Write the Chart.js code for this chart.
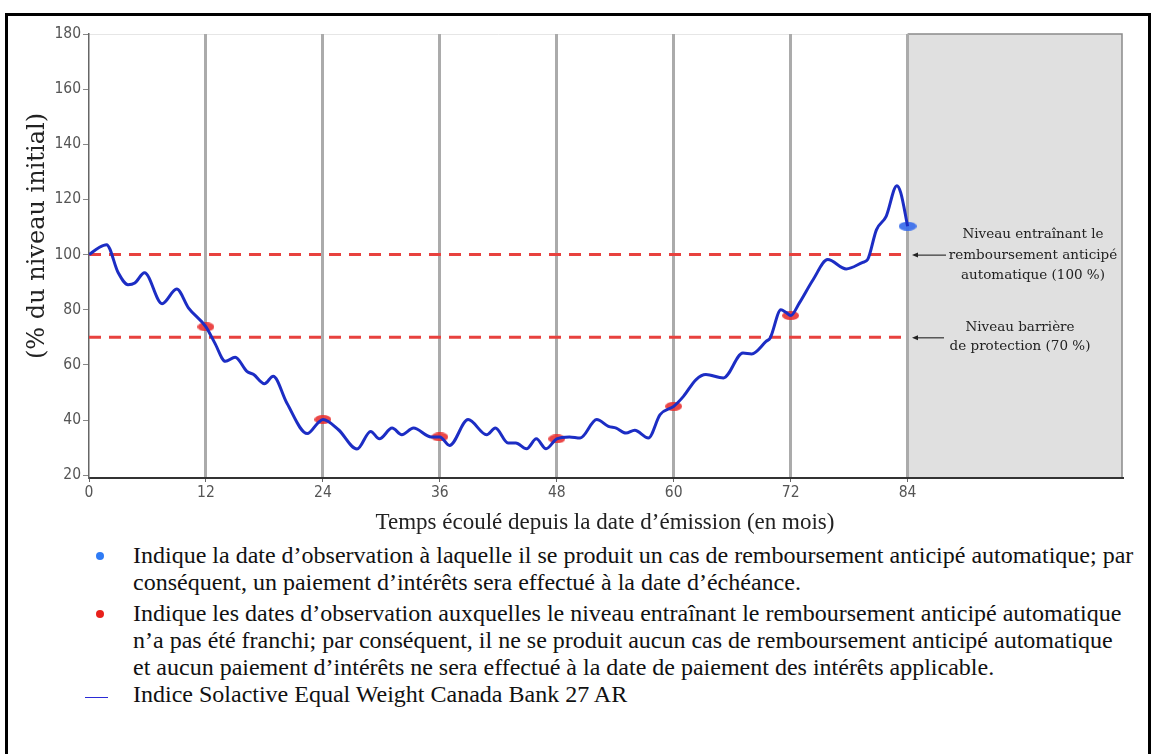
<!DOCTYPE html>
<html lang="fr">
<head>
<meta charset="utf-8">
<script src="https://cdn.jsdelivr.net/npm/chart.js@4.4.1/dist/chart.umd.min.js"></script>
<style>
    html, body { margin: 0; padding: 0; background: #fff; width: 1153px; height: 754px; overflow: hidden; }
    #frame { position: absolute; left: 5px; top: 13px; width: 1146px; height: 800px; border: 3px solid #000; box-sizing: border-box; }
    #chartBox { position: absolute; left: 0; top: 0; width: 1153px; height: 540px; }
    .note { position: absolute; left: 133px; font: 24px 'Liberation Serif', 'Times New Roman', serif; line-height: 27px; color: #111; white-space: nowrap; }
    .dot { position: absolute; left: 96px; width: 8px; height: 8px; border-radius: 50%; }
    .dash { position: absolute; left: 85px; width: 23px; height: 1px; background: #2b2bd6; }
</style>
</head>
<body>
<div id="frame"></div>
<div id="chartBox"><canvas id="indexChart" width="1153" height="540"></canvas></div>

<div class="dot" style="top:552px; background:#2f7bf5;"></div>
<div class="note" style="top:542px;">Indique la date d’observation à laquelle il se produit un cas de remboursement anticipé automatique; par<br>conséquent, un paiement d’intérêts sera effectué à la date d’échéance.</div>

<div class="dot" style="top:610px; background:#e8211c;"></div>
<div class="note" style="top:600px;">Indique les dates d’observation auxquelles le niveau entraînant le remboursement anticipé automatique<br>n’a pas été franchi; par conséquent, il ne se produit aucun cas de remboursement anticipé automatique<br>et aucun paiement d’intérêts ne sera effectué à la date de paiement des intérêts applicable.</div>

<div class="dash" style="top:697px;"></div>
<div class="note" style="top:681px;">Indice Solactive Equal Weight Canada Bank 27 AR</div>

<script>
// ======================================================
// DATA
// ======================================================
const months = [0, 1, 1.8, 3, 4, 4.7, 5.7, 7.5, 9, 10.2, 12, 12.9, 14, 15, 16.2, 16.9, 18, 18.9, 20.3, 22.4,
    23.5, 24, 25.6, 27.5, 28.9, 29.8, 31.1, 32.1, 33.3, 35.1, 36, 37, 38.9, 40.8, 41.7, 43, 43.8, 44.9, 45.9,
    46.9, 48, 49.3, 50.4, 52.1, 53.3, 54.1, 55.1, 56, 57.4, 58.6, 60, 61, 62.3, 63.3, 65.1, 67.1, 68, 69.5,
    69.9, 71, 71.5, 72, 72.9, 74.3, 75.8, 77.7, 79.4, 79.9, 80.8, 81.8, 82.9, 83.3, 84];
const indexValues = [100, 102.5, 103.6, 93.4, 89.1, 89.7, 93.4, 82.2, 87.5, 80.7, 73.8, 68, 61.3, 62.8, 57.7, 56.5, 53.2, 55.9, 46.2, 35.1,
    39, 40.2, 36.5, 29.5, 35.9, 33.2, 37.1, 34.7, 37.1, 33.9, 33.9, 30.8, 40.2, 34.7, 37.1, 31.7, 31.7, 29.6, 33.2,
    29.6, 33.2, 33.9, 33.5, 40.2, 37.7, 37.1, 35.3, 36.3, 33.5, 42, 45, 48.6, 54.7, 56.5, 55.3, 64.3, 64, 68.6,
    69.8, 80, 79.1, 77.9, 82.5, 90.9, 98.2, 94.8, 97.2, 98.2, 109, 113.9, 125, 122.4, 110.3];

const missMonths   = [12, 24, 36, 48, 60, 72];
const missValues   = [73.8, 40.2, 33.9, 33.2, 45, 77.9];
const callMonths   = [84];
const callValues   = [110.3];

const autocallLevel = 100;
const barrierLevel  = 70;
const maturity      = 84;

const xTicks = [0, 12, 24, 36, 48, 60, 72, 84];
const yTicks = [20, 40, 60, 80, 100, 120, 140, 160, 180];

// ── helpers ───────────────────────────────────────────
function makeEllipse(color, w, h) {
    const c = document.createElement("canvas");
    c.width = w; c.height = h;
    const g = c.getContext("2d");
    g.fillStyle = color;
    g.beginPath();
    g.ellipse(w / 2, h / 2, w / 2, h / 2, 0, 0, Math.PI * 2);
    g.fill();
    return c;
}

const toPoints = (xs, ys) => xs.map((x, i) => ({ x: x, y: ys[i] }));

const tickFont = { family: "'DejaVu Sans Condensed', 'DejaVu Sans', sans-serif", size: 15.5 };

// ======================================================
// DECORATION PLUGIN (shaded zone, titles, annotations)
// ======================================================
const decorations = {
    id: "decorations",
    beforeDraw(chart) {
        const { ctx, chartArea: a, scales: { x } } = chart;
        const x84 = x.getPixelForValue(maturity);
        ctx.save();
        ctx.fillStyle = "#e0e0e0";
        ctx.fillRect(x84, a.top, a.right - x84, a.bottom - a.top);
        ctx.strokeStyle = "#e6e6e6";
        ctx.lineWidth = 1;
        ctx.beginPath();
        ctx.moveTo(a.left, a.top + 0.5); ctx.lineTo(x84, a.top + 0.5);
        ctx.stroke();
        ctx.strokeStyle = "#8a8a8a";
        ctx.lineWidth = 1.5;
        ctx.beginPath();
        ctx.moveTo(x84, a.top); ctx.lineTo(a.right, a.top); ctx.lineTo(a.right, a.bottom);
        ctx.stroke();
        ctx.restore();
    },
    afterDraw(chart) {
        const { ctx, scales: { y } } = chart;
        ctx.save();
        ctx.fillStyle = "#222";

        // axis titles
        ctx.textAlign = "center";
        ctx.textBaseline = "middle";
        ctx.font = "23px 'Liberation Serif', serif";
        ctx.fillText("Temps écoulé depuis la date d’émission (en mois)", 605, 523);

        ctx.save();
        ctx.translate(38, 236);
        ctx.rotate(-Math.PI / 2);
        ctx.font = "24px 'DejaVu Serif', serif";
        ctx.fillText("(% du niveau initial)", 0, 0);
        ctx.restore();

        // annotations in shaded zone
        ctx.font = "13.5px 'DejaVu Serif', serif";
        const yA = y.getPixelForValue(autocallLevel);
        const yB = y.getPixelForValue(barrierLevel);
        ["Niveau entraînant le", "remboursement anticipé", "automatique (100 %)"]
            .forEach((t, i) => ctx.fillText(t, 1033, yA - 20 + i * 20.5));
        ["Niveau barrière", "de protection (70 %)"]
            .forEach((t, i) => ctx.fillText(t, 1020, yB - 10 + i * 19));

        // arrows
        ctx.strokeStyle = "#111";
        ctx.lineWidth = 1;
        [[yA, 946], [yB, 944]].forEach(([py, x0]) => {
            ctx.beginPath();
            ctx.moveTo(x0, py + 0.5); ctx.lineTo(916, py + 0.5);
            ctx.stroke();
            ctx.beginPath();
            ctx.moveTo(912, py + 0.5); ctx.lineTo(918, py - 2); ctx.lineTo(918, py + 3);
            ctx.closePath();
            ctx.fill();
        });
        ctx.restore();
    }
};

// ======================================================
// CHART
// ======================================================
const ctx = document.getElementById("indexChart").getContext("2d");

new Chart(ctx, {
    type: "line",
    data: {
        datasets: [
            {
                label: "Indice Solactive Equal Weight Canada Bank 27 AR",
                data: toPoints(months, indexValues),
                borderColor: "#1c2dc4",
                borderWidth: 3,
                pointRadius: 0,
                cubicInterpolationMode: "monotone",
                fill: false
            },
            {
                label: "Remboursement anticipé",
                data: toPoints(callMonths, callValues),
                showLine: false,
                pointStyle: makeEllipse("rgba(58,110,235,0.92)", 18, 9)
            },
            {
                label: "Non franchi",
                data: toPoints(missMonths, missValues),
                showLine: false,
                pointStyle: makeEllipse("rgba(232,45,45,0.88)", 17, 9)
            },
            {
                label: "Niveau 100 %",
                data: toPoints([0, maturity], [autocallLevel, autocallLevel]),
                borderColor: "#e8413e",
                borderWidth: 3,
                borderDash: [12, 8],
                pointRadius: 0
            },
            {
                label: "Barrière 70 %",
                data: toPoints([0, maturity], [barrierLevel, barrierLevel]),
                borderColor: "#e8413e",
                borderWidth: 3,
                borderDash: [12, 8],
                pointRadius: 0
            }
        ]
    },
    options: {
        responsive: false,
        animation: false,
        devicePixelRatio: 1,
        layout: { padding: { left: 0, top: 34, right: 31, bottom: 0 } },
        plugins: { legend: { display: false }, tooltip: { enabled: false } },
        scales: {
            x: {
                type: "linear",
                min: 0,
                max: 106,
                afterBuildTicks: s => { s.ticks = xTicks.map(v => ({ value: v })); },
                afterFit: s => { s.height = 62; },
                grid: {
                    color: c => (c.tick && c.tick.value === 0 ? "rgba(0,0,0,0)" : "#ababab"),
                    lineWidth: 3,
                    tickColor: "#666",
                    tickWidth: 1,
                    tickLength: 4
                },
                border: { color: "#333", width: 2 },
                ticks: { color: "#555", font: tickFont, padding: 2, maxRotation: 0 }
            },
            y: {
                min: 19,
                max: 180,
                afterBuildTicks: s => { s.ticks = yTicks.map(v => ({ value: v })); },
                afterFit: s => { s.width = 89; },
                grid: { drawOnChartArea: false, color: "#888", tickLength: 6 },
                border: { color: "#666", width: 1.5 },
                ticks: { color: "#555", font: tickFont, padding: 2 }
            }
        }
    },
    plugins: [decorations]
});
</script>
</body>
</html>
